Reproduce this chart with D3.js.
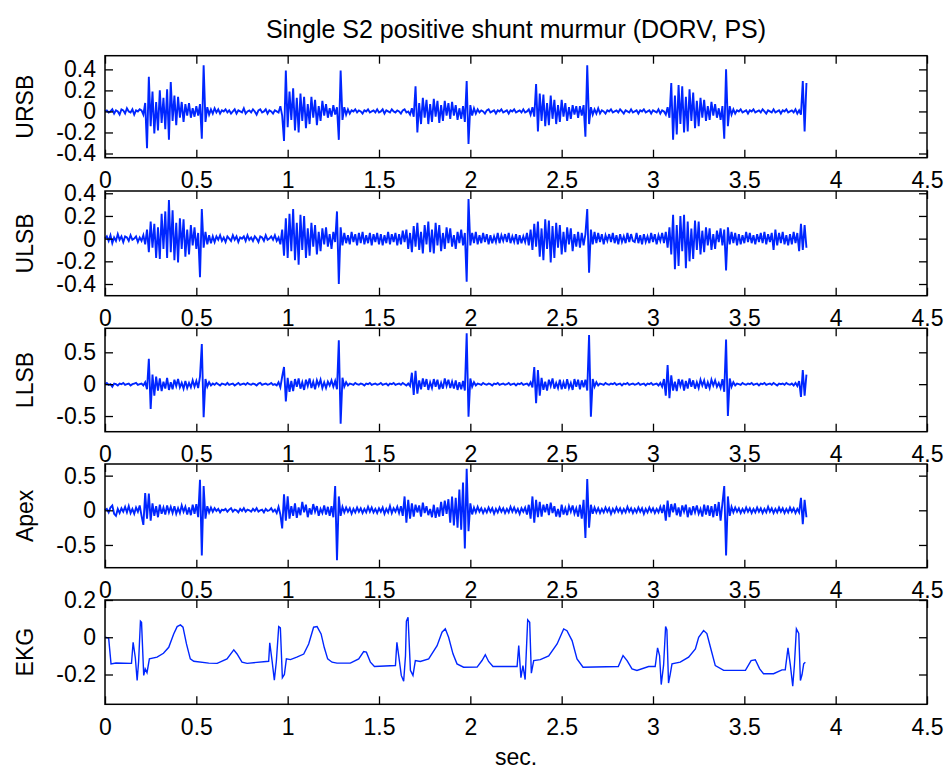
<!DOCTYPE html>
<html><head><meta charset="utf-8">
<script src="https://cdn.jsdelivr.net/npm/d3@7"></script>
<style>
body{margin:0;background:#fff}
svg text{font-family:"Liberation Sans",Arial,Helvetica,sans-serif;fill:#000}
</style>
</head><body>
<svg id="chart" width="947" height="769"></svg>
<script>
// ---------------- DATA ----------------
const chartTitle = "Single S2 positive shunt murmur (DORV, PS)";
const xAxisLabel = "sec.";
const channelNames = ["URSB", "ULSB", "LLSB", "Apex", "EKG"];
const xTickValues = [0, 0.5, 1, 1.5, 2, 2.5, 3, 3.5, 4, 4.5];
const yTicksURSB = [-0.4, -0.2, 0, 0.2, 0.4];
const yTicksULSB = [-0.4, -0.2, 0, 0.2, 0.4];
const yTicksLLSB = [-0.5, 0, 0.5];
const yTicksApex = [-0.5, 0, 0.5];
const yTicksEKG = [-0.2, 0, 0.2];

// heart-sound channels: one reading every 0.01 s, starting at 0 s, values in hundredths
const sampleStep = 0.01;
const sampleUnit = 0.01;
const ursb = [
0,1,-1,0,2,-2,1,0,-3,2,
1,-2,3,0,-1,2,-3,1,0,2,
1,-3,8,-35,33,-14,19,-21,9,-18,
20,-11,13,-17,21,-27,28,-9,15,-13,
14,-6,9,-10,7,-4,8,-6,3,-5,
5,-4,7,-26,44,-10,4,-3,2,-2,
3,-1,2,-2,1,0,2,-1,1,-2,
0,2,-2,1,0,-1,3,-2,0,1,
-1,2,0,-3,1,2,-1,0,2,-2,
1,0,-2,1,0,-1,5,-4,-28,39,
-15,19,-8,22,-18,13,-20,17,-9,14,
-16,7,-12,14,-6,11,-13,5,-9,10,
-4,7,-6,3,-5,6,-3,4,-27,39,
-8,4,-3,2,-2,1,0,2,-1,1,
0,-2,1,0,2,-1,0,1,-1,2,
-1,0,2,-2,1,0,-1,2,0,-1,
1,0,-2,1,2,-1,0,-3,3,-5,
24,-20,8,-12,13,-6,11,-12,7,-10,
12,-5,10,-11,6,-9,10,-4,8,-7,
9,-4,6,-8,3,-7,5,-10,29,-31,
6,-4,3,-2,2,-1,1,0,-2,1,
2,-1,0,1,-2,1,0,2,-1,0,
1,-2,1,0,2,-1,0,1,-1,2,
-1,0,2,-3,4,-5,26,-19,17,-9,
16,-14,8,-13,15,-7,11,-12,6,-10,
11,-5,8,-9,4,-7,6,-3,5,-6,
5,-4,6,-24,44,-12,4,-3,2,-2,
3,-2,1,0,-2,1,0,2,-1,0,
1,-1,2,0,-2,1,0,-1,2,-1,
0,1,-2,1,0,2,-1,0,1,-2,
1,0,-1,2,-2,1,0,-3,4,-6,
27,-27,15,-22,25,-12,24,-20,14,-19,
21,-9,18,-16,10,-14,13,-6,11,-9,
5,-8,9,-4,7,-6,3,-8,5,-26,
40,-14,5,-3,2,-2,1,0,2,-1,
0,1,-2,1,0,2,-1,0,1,-1,
2,0,-2,1,0,-1,2,-1,0,1,
-2,1,0,2,-1,0,1,-1,2,-2,
1,-3,29,-19,27];
const ulsb = [
0,2,-2,3,-4,1,-2,4,-1,2,
-3,2,1,-2,3,-1,0,2,-3,1,
-2,3,-5,8,-12,15,-8,13,-17,10,
-18,22,-9,24,-17,34,-12,25,-19,14,
-21,18,-9,17,-16,8,-14,12,-6,10,
-9,5,-34,26,-8,6,-5,3,-4,2,
-3,2,-1,3,-2,1,-3,2,0,-2,
3,-1,2,-3,1,0,2,-2,3,-1,
1,-2,2,0,-3,2,1,-2,3,-1,
0,2,-1,3,-2,1,-5,8,-15,18,
-17,22,-11,26,-19,14,-23,21,-10,20,
-17,9,-15,14,-7,12,-14,6,-11,9,
-5,10,-7,4,-9,6,-3,24,-40,10,
-6,5,-4,3,-5,6,-3,4,-6,5,
-4,6,-5,3,-4,5,-6,4,-3,5,
-5,4,-6,3,-4,6,-5,4,-3,5,
-6,4,-5,7,-3,8,-9,5,-12,11,
-7,14,-10,6,-13,12,-5,15,-12,8,
-13,14,-6,12,-11,5,-9,10,-4,9,
-7,3,-9,6,-4,8,-6,5,-38,35,
-6,5,-4,6,-5,3,-4,5,-3,4,
-5,3,-4,2,-3,5,-4,3,-2,4,
-3,5,-4,2,-3,4,-5,3,-4,2,
-3,5,-6,8,-10,13,-7,15,-16,9,
-19,17,-9,16,-21,11,-17,14,-8,12,
-14,6,-12,10,-5,9,-11,4,-7,6,
-8,5,-6,4,26,-30,8,-5,6,-4,
5,-3,4,-5,3,-2,4,-3,5,-4,
3,-5,4,-3,2,-4,5,-3,4,-2,
-3,5,-4,3,-5,4,-3,2,-4,5,
-3,4,-5,3,-2,5,-4,6,-8,10,
-14,21,-27,12,-24,20,-11,21,-26,15,
-20,9,-18,16,-10,15,-14,7,-12,10,
-6,9,-10,4,-9,7,-3,9,-6,8,
-28,10,-5,6,-4,5,-6,4,-5,3,
-4,6,-3,5,-4,3,-5,4,-3,5,
-4,6,-5,4,-3,5,-10,8,-6,5,
-4,6,-5,3,-6,4,-5,6,-4,5,
-11,13,-10,12,-8];
const llsb = [
0,2,-1,0,-4,1,0,-2,1,0,
2,-1,0,1,-2,0,1,2,-1,0,
1,-2,3,-8,40,-39,15,-18,12,-10,
9,-11,4,-7,10,-9,3,-8,7,-3,
8,-5,2,-7,5,-6,2,-5,6,-4,
5,-6,12,63,-52,8,-4,3,-2,1,
-1,2,0,-2,1,0,-1,2,-1,0,
1,-2,0,2,-1,0,1,-1,2,0,
-1,1,0,-2,1,2,-1,0,1,-1,
0,2,-1,0,-2,3,-5,12,27,-27,
10,-12,5,-11,8,-4,9,-7,3,-9,
7,-3,9,-6,4,-8,6,-2,7,-6,
3,-6,4,-2,6,-4,5,-8,69,-62,
10,-4,3,-2,1,0,-1,2,0,-1,
1,0,-2,1,0,2,-1,0,1,-1,
0,2,-1,0,1,-2,1,0,2,-1,
0,1,-1,2,0,-2,1,-3,18,-17,
21,-15,6,-8,9,-4,8,-9,3,-6,
8,-4,7,-8,2,-7,9,-3,7,-6,
4,-7,6,-9,3,-8,5,-10,80,-51,
9,-4,3,-2,1,0,-1,2,0,-1,
1,0,-2,1,0,2,-1,0,1,-1,
0,2,-1,0,1,-2,1,0,2,-1,
0,1,-2,3,-5,27,-30,22,-18,10,
-9,4,-10,7,-3,9,-7,2,-6,7,
-8,3,-7,8,-6,2,-9,8,-4,7,
-8,6,-5,7,-10,77,-51,8,-4,3,
-2,1,0,-1,2,0,-1,1,0,2,
-1,0,1,-2,1,0,2,-1,0,1,
-1,0,2,-1,0,1,-2,1,0,2,
-1,0,1,-2,2,-4,8,-18,30,-22,
14,-10,4,-11,8,-3,7,-10,5,-7,
9,-4,6,-7,3,-6,7,-2,6,-7,
3,-6,7,-2,6,-4,2,-6,8,-12,
70,-50,9,-4,3,-2,1,0,-1,2,
0,-1,1,0,2,-1,0,1,-2,1,
0,2,-1,0,1,-1,2,0,-2,1,
0,1,-1,2,0,-1,1,-2,2,-3,
5,-20,22,-18,15];
const apex = [
0,2,-3,4,7,-5,-8,2,-4,3,
-2,5,-3,6,-4,2,-5,4,-2,7,
-8,-21,25,-12,24,-15,10,-8,6,-10,
8,-5,4,-6,7,-3,5,-4,6,-5,
3,-4,7,-2,5,-6,4,-7,8,-5,
9,-10,44,-65,35,-12,6,-3,4,-2,
3,-1,2,-3,1,0,2,-2,1,3,
-2,1,0,-3,2,-1,3,-2,1,0,
-2,2,-1,3,-2,0,1,-3,2,-1,
0,3,-2,1,-4,5,-6,-26,23,-15,
20,-12,6,-8,10,-11,4,-7,12,-3,
8,-10,3,-6,9,-2,6,-8,2,-4,
7,-6,5,-8,6,-10,35,-72,20,-8,
5,-3,4,-2,3,-5,2,-3,4,-2,
3,-4,2,-3,5,-2,4,-3,2,-4,
3,-2,4,-5,2,-3,6,-4,3,-2,
5,-4,6,-8,20,-18,15,-12,10,-9,
8,-3,7,-9,11,-4,6,-7,2,-10,
8,-11,4,-9,12,-8,14,-5,16,-18,
20,-22,18,-25,30,-28,40,-55,60,-30,
10,-6,4,-3,5,-2,3,-4,2,-3,
4,-2,3,-5,2,-3,4,-2,3,-4,
2,-3,5,-2,4,-3,2,-5,3,-2,
4,-6,8,-12,20,-18,15,-10,12,-9,
8,-3,9,-7,11,-4,6,-9,2,-10,
8,-6,3,-7,6,-2,7,-5,3,-9,
8,-12,15,-40,45,-25,8,-5,4,-3,
3,-4,2,-3,4,-2,3,-5,2,-3,
4,-2,3,-4,2,-3,5,-2,3,-4,
2,-3,4,-2,3,-5,2,-3,4,-2,
3,-4,2,-3,5,-4,8,-15,14,-10,
9,-3,10,-7,4,-9,7,-2,8,-10,
4,-7,6,-3,7,-5,2,-9,8,-6,
7,-8,6,-10,9,-8,12,-15,10,35,
-65,20,-8,5,-3,4,-2,3,-4,2,
-3,4,-2,3,-4,2,-3,4,-2,3,
-4,2,-3,5,-2,3,-4,2,-3,4,
-2,3,-4,2,-3,4,-2,3,-4,2,
-3,18,-20,15,-10];

// EKG: vertices (time in s, value)
const ekgTime = [0,0.02,0.033,0.06,0.145,0.154,0.166,0.176,0.184,0.194,0.2,0.212,0.22,0.23,0.243,0.285,0.32,0.349,0.376,0.395,0.413,0.427,0.446,0.467,0.486,0.568,0.614,0.668,0.705,0.723,0.75,0.778,
0.896,0.902,0.915,0.927,0.938,0.951,0.96,0.971,0.982,0.993,1.015,1.05,1.088,1.115,1.142,1.161,1.183,1.2,1.219,1.243,1.27,1.343,1.389,1.416,1.431,1.453,1.475,
1.59,1.598,1.608,1.622,1.635,1.645,1.65,1.659,1.672,1.686,1.699,1.726,1.772,1.818,1.845,1.863,1.881,1.905,1.927,1.963,2.037,2.064,2.082,2.1,2.124,
2.256,2.265,2.277,2.288,2.3,2.314,2.325,2.334,2.347,2.383,2.429,2.475,2.511,2.529,2.557,2.584,2.617,2.81,2.836,2.858,2.885,2.912,2.976,
3.012,3.025,3.036,3.045,3.058,3.069,3.076,3.085,3.094,3.104,3.149,3.195,3.232,3.25,3.277,3.295,3.317,3.341,3.387,3.506,3.537,3.56,3.584,3.605,3.66,3.706,3.724,
3.739,3.752,3.765,3.774,3.785,3.798,3.807,3.816,3.825,3.834];
const ekgValue = [0,-0.005,-0.143,-0.138,-0.14,-0.027,-0.11,-0.232,-0.13,0.086,0.08,-0.205,-0.17,-0.19,-0.116,-0.107,-0.086,-0.054,0.018,0.057,0.066,0.054,-0.036,-0.116,-0.129,-0.139,-0.14,-0.116,-0.068,-0.09,-0.134,-0.14,
-0.129,-0.03,-0.13,-0.23,-0.13,0.057,0.05,-0.217,-0.2,-0.116,-0.12,-0.107,-0.09,-0.036,0.054,0.057,0.018,-0.054,-0.116,-0.134,-0.139,-0.139,-0.116,-0.077,-0.08,-0.134,-0.157,
-0.152,-0.027,-0.1,-0.205,-0.236,-0.1,0.086,0.107,-0.178,-0.205,-0.125,-0.13,-0.116,-0.045,0.027,0.045,0,-0.089,-0.143,-0.161,-0.16,-0.125,-0.094,-0.13,-0.157,
-0.157,-0.045,-0.217,-0.152,-0.227,0.093,0.08,-0.193,-0.125,-0.12,-0.1,-0.036,0.045,0.035,-0.018,-0.116,-0.161,-0.157,-0.098,-0.125,-0.17,-0.178,-0.157,
-0.157,-0.057,-0.098,-0.254,-0.15,0.057,0.04,-0.246,-0.2,-0.143,-0.134,-0.107,-0.063,0,0.036,0.02,-0.063,-0.152,-0.178,-0.178,-0.125,-0.121,-0.17,-0.196,-0.196,-0.175,-0.175,
-0.057,-0.15,-0.263,-0.15,0.045,0.02,-0.232,-0.2,-0.143,-0.134];

// ---------------- LAYOUT ----------------
const W = 947, H = 769;
const plotLeft = 105, plotRight = 927;
const fontSize = 23;
const lineColor = "#0026ff";
const panels = [
  {top: 55.7, bottom: 157.7, domain: [-0.44, 0.53], ticks: yTicksURSB},
  {top: 191, bottom: 295.7, domain: [-0.503, 0.42], ticks: yTicksULSB},
  {top: 328.3, bottom: 431.7, domain: [-0.746, 0.877], ticks: yTicksLLSB},
  {top: 464, bottom: 567.7, domain: [-0.828, 0.668], ticks: yTicksApex},
  {top: 600, bottom: 704.3, domain: [-0.36, 0.2], ticks: yTicksEKG}
];
const signalSeries = [ursb, ulsb, llsb, apex];

const svg = d3.select("#chart");
svg.append("rect").attr("width", W).attr("height", H).attr("fill", "#fff");

const x = d3.scaleLinear().domain([0, 4.5]).range([plotLeft, plotRight]);
const fmt = d => String(d);

panels.forEach((p, k) => {
  const y = d3.scaleLinear().domain(p.domain).range([p.bottom, p.top]);
  const g = svg.append("g");

  let pts;
  if (k < 4) {
    pts = signalSeries[k].map((v, i) => [i * sampleStep, v * sampleUnit]);
  } else {
    pts = ekgTime.map((t, i) => [t, ekgValue[i]]);
  }
  const line = d3.line().x(d => x(d[0])).y(d => y(d[1]));
  g.append("path").attr("d", line(pts))
    .attr("fill", "none").attr("stroke", lineColor)
    .attr("stroke-width", k < 4 ? 1.9 : 1.4).attr("stroke-linejoin", "miter");

  const styleAxis = sel => {
    sel.attr("font-size", fontSize).attr("font-family", '"Liberation Sans", Arial, sans-serif');
    sel.select(".domain").remove();
    sel.selectAll(".tick line").attr("stroke", "#000").attr("stroke-width", 1.3);
    sel.selectAll(".tick text").attr("fill", "#000");
  };
  g.append("g").attr("transform", `translate(0,${p.bottom})`)
    .call(d3.axisBottom(x).tickValues(xTickValues).tickFormat(fmt).tickSizeInner(-8).tickSizeOuter(0).tickPadding(14))
    .call(styleAxis);
  g.append("g").attr("transform", `translate(0,${p.top})`)
    .call(d3.axisTop(x).tickValues(xTickValues).tickFormat("").tickSizeInner(-8).tickSizeOuter(0))
    .call(styleAxis);
  g.append("g").attr("transform", `translate(${plotLeft},0)`)
    .call(d3.axisLeft(y).tickValues(p.ticks).tickFormat(fmt).tickSizeInner(-8).tickSizeOuter(0).tickPadding(9))
    .call(styleAxis);
  g.append("g").attr("transform", `translate(${plotRight},0)`)
    .call(d3.axisRight(y).tickValues(p.ticks).tickFormat("").tickSizeInner(-8).tickSizeOuter(0))
    .call(styleAxis);

  g.append("rect").attr("x", plotLeft).attr("y", p.top)
    .attr("width", plotRight - plotLeft).attr("height", p.bottom - p.top)
    .attr("fill", "none").attr("stroke", "#000").attr("stroke-width", 1.5);

  g.append("text")
    .attr("transform", `translate(33,${(p.top + p.bottom) / 2}) rotate(-90)`)
    .attr("text-anchor", "middle").attr("font-size", fontSize)
    .text(channelNames[k]);
});

svg.append("text").attr("x", (plotLeft + plotRight) / 2).attr("y", 38)
  .attr("text-anchor", "middle").attr("font-size", 25).text(chartTitle);
svg.append("text").attr("x", (plotLeft + plotRight) / 2).attr("y", 765)
  .attr("text-anchor", "middle").attr("font-size", fontSize).text(xAxisLabel);
</script>
</body></html>
